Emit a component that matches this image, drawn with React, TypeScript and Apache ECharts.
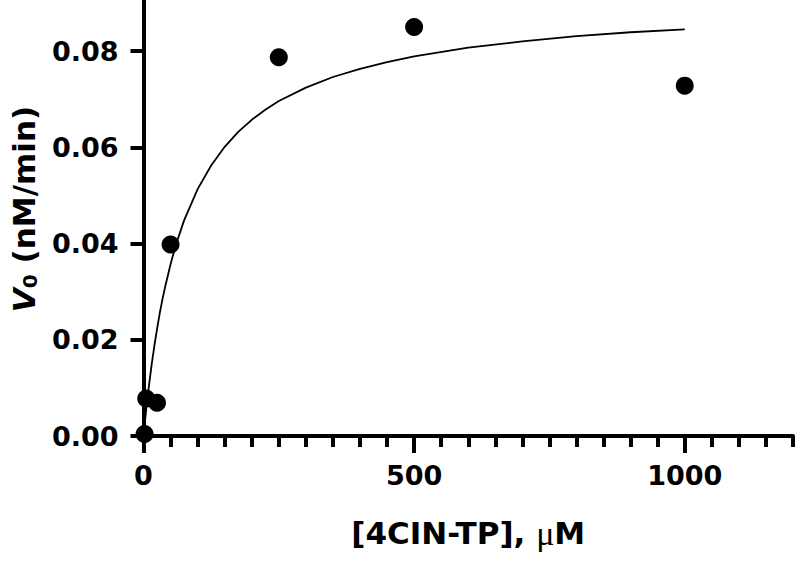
import React, { useEffect, useRef } from "react";
import * as echarts from "echarts";

// Measured data points: [concentration (µM), V0 (nM/min)]
const substrateConc = [2, 5, 25, 50, 250, 500, 1000];
const initialRate = [0.0004, 0.0078, 0.0069, 0.0398, 0.0787, 0.085, 0.0728];

// Fitted curve
const curveX = [0, 5, 10, 15, 20, 25, 30, 35, 40, 50, 60, 75, 100, 125, 150, 175, 200, 225, 250, 300, 350, 400, 450, 500, 600, 700, 800, 900, 1000];
const curveY = [0, 0.0055, 0.0104, 0.0148, 0.0187, 0.0222, 0.0255, 0.0284, 0.031, 0.0357, 0.0398, 0.0448, 0.0513, 0.0562, 0.0601, 0.0632, 0.0657, 0.0678, 0.0696, 0.0724, 0.0746, 0.0763, 0.0777, 0.0789, 0.0807, 0.082, 0.0831, 0.0839, 0.0845];

const xMajorTicks = [0, 500, 1000];
const xMinorTicks = [50, 100, 150, 200, 250, 300, 350, 400, 450, 550, 600, 650, 700, 750, 800, 850, 900, 950, 1050, 1100, 1150, 1200];
const yTicks = [0, 0.02, 0.04, 0.06, 0.08];

const FONT = "DejaVu Sans";

export default function App() {
  const ref = useRef<HTMLDivElement>(null);
  useEffect(() => {
    if (!ref.current) return;
    const chart = echarts.init(ref.current, null, { renderer: "svg" });
    chart.setOption({
      animation: false,
      backgroundColor: "#ffffff",
      grid: { left: 142, right: 7, top: 0, bottom: 126 },
      xAxis: [
        {
          type: "value",
          min: 0,
          max: 1200,
          interval: 100,
          position: "bottom",
          axisLine: { show: true, onZero: false, lineStyle: { color: "#000", width: 4 } },
          axisTick: { show: true, customValues: xMajorTicks, length: 17, lineStyle: { color: "#000", width: 4 } },
          axisLabel: {
            customValues: xMajorTicks,
            margin: 26,
            color: "#000",
            fontFamily: FONT,
            fontWeight: "bold",
            fontSize: 27,
            formatter: (v: number) => String(v),
          },
          splitLine: { show: false },
          name: "[4CIN-TP], {mu|μ}M",
          nameLocation: "middle",
          nameGap: 80,
          nameTextStyle: {
            color: "#000",
            fontFamily: FONT,
            fontWeight: "bold",
            fontSize: 31,
            rich: {
              mu: { fontFamily: "Liberation Serif", fontWeight: "normal", fontSize: 34, color: "#000" },
            },
          },
        },
        {
          type: "value",
          min: 0,
          max: 1200,
          interval: 100,
          position: "bottom",
          axisLine: { show: false, onZero: false },
          axisTick: { show: true, customValues: xMinorTicks, length: 11, lineStyle: { color: "#000", width: 4 } },
          axisLabel: { show: false },
          splitLine: { show: false },
        },
      ],
      yAxis: {
        type: "value",
        min: 0,
        max: 0.0906,
        interval: 0.02,
        axisLine: { show: true, onZero: false, lineStyle: { color: "#000", width: 4 } },
        axisTick: { show: true, customValues: yTicks, length: 13, lineStyle: { color: "#000", width: 4 } },
        axisLabel: {
          customValues: yTicks,
          margin: 25,
          color: "#000",
          fontFamily: FONT,
          fontWeight: "bold",
          fontSize: 27,
          formatter: (v: number) => v.toFixed(2),
        },
        splitLine: { show: false },
        name: "{i|V}{sub|0} (nM/min)",
        nameLocation: "middle",
        nameGap: 104,
        nameTextStyle: {
          color: "#000",
          fontFamily: FONT,
          fontWeight: "bold",
          fontSize: 31,
          padding: [0, 0, 0, 18],
          rich: {
            i: { fontFamily: FONT, fontWeight: "bold", fontStyle: "italic", fontSize: 31, color: "#000" },
            sub: { fontFamily: FONT, fontWeight: "bold", fontSize: 20, color: "#000", verticalAlign: "bottom", padding: [12, 0, 0, 0] },
          },
        },
      },
      series: [
        {
          type: "line",
          xAxisIndex: 0,
          data: curveX.map((x, i) => [x, curveY[i]]),
          showSymbol: false,
          smooth: false,
          lineStyle: { color: "#000", width: 1.8 },
          z: 2,
        },
        {
          type: "scatter",
          xAxisIndex: 0,
          data: substrateConc.map((x, i) => [x, initialRate[i]]),
          symbol: "circle",
          symbolSize: 18,
          itemStyle: { color: "#000", opacity: 1 },
          z: 3,
        },
      ],
    });
    return () => chart.dispose();
  }, []);
  return <div ref={ref} style={{ width: 800, height: 562, position: "absolute", left: 0, top: 0 }} />;
}
